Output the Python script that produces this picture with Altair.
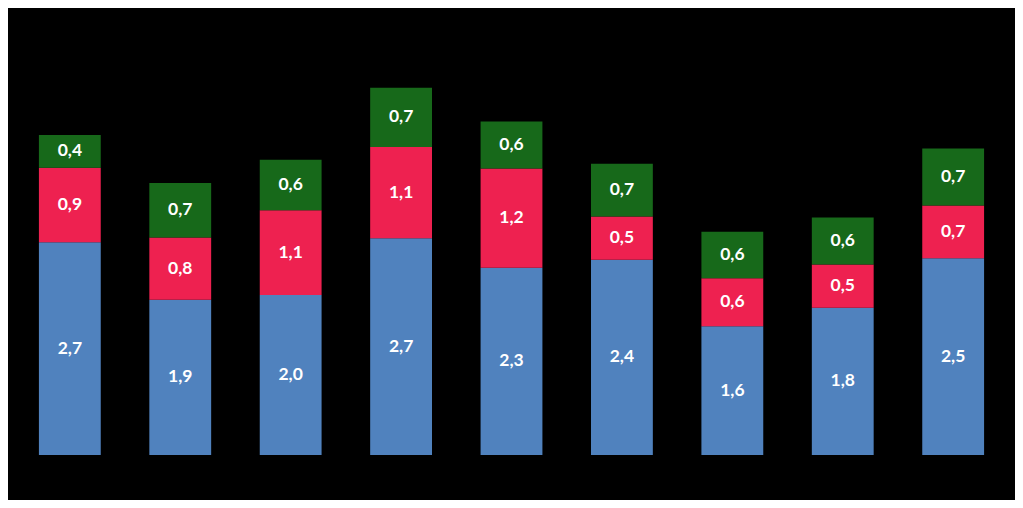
import altair as alt
import pandas as pd

categories = ["A", "B", "C", "D", "E", "F", "G", "H", "I"]
series = ["Serie 1", "Serie 2", "Serie 3"]
colors = ["#5082BE", "#EE2150", "#17691A"]

serie1 = [2.66, 1.94, 2.00, 2.71, 2.34, 2.44, 1.61, 1.84, 2.46]
serie2 = [0.93, 0.78, 1.06, 1.14, 1.24, 0.54, 0.60, 0.54, 0.66]
serie3 = [0.41, 0.68, 0.63, 0.74, 0.59, 0.66, 0.58, 0.59, 0.71]

rows = []
for i, c in enumerate(categories):
    for k, (s, vals) in enumerate(zip(series, [serie1, serie2, serie3])):
        rows.append({"category": c, "series": s, "value": vals[i], "order": k})
df = pd.DataFrame(rows)

base = alt.Chart(df).transform_stack(
    stack="value", groupby=["category"], as_=["y0", "y1"],
    sort=[alt.SortField("order", order="ascending")]
).transform_calculate(
    mid="(datum.y0 + datum.y1) / 2",
    label="replace(format(datum.value, '.1f'), '.', ',')"
)

xenc = alt.X("category:N", sort=categories, axis=None,
             scale=alt.Scale(paddingInner=0.44, paddingOuter=0.28))
yscale = alt.Scale(domain=[0, 5.5875], nice=False, zero=True)

bars = base.mark_bar().encode(
    x=xenc,
    y=alt.Y("y0:Q", scale=yscale, axis=None),
    y2="y1:Q",
    color=alt.Color("series:N", scale=alt.Scale(domain=series, range=colors), legend=None),
)

text = base.mark_text(color="white", font="Lato", fontWeight="bold", fontSize=17.5,
                      baseline="middle", align="center").encode(
    x=xenc,
    y=alt.Y("mid:Q", scale=yscale, axis=None),
    text="label:N",
)

chart = alt.layer(bars, text).properties(
    width=1007, height=447,
    padding={"left": 0, "top": 0, "right": 0, "bottom": 45},
    autosize="none",
    background="black",
).configure_view(stroke=None)

chart.save("out.html", embed_options={"renderer": "svg", "actions": False})
